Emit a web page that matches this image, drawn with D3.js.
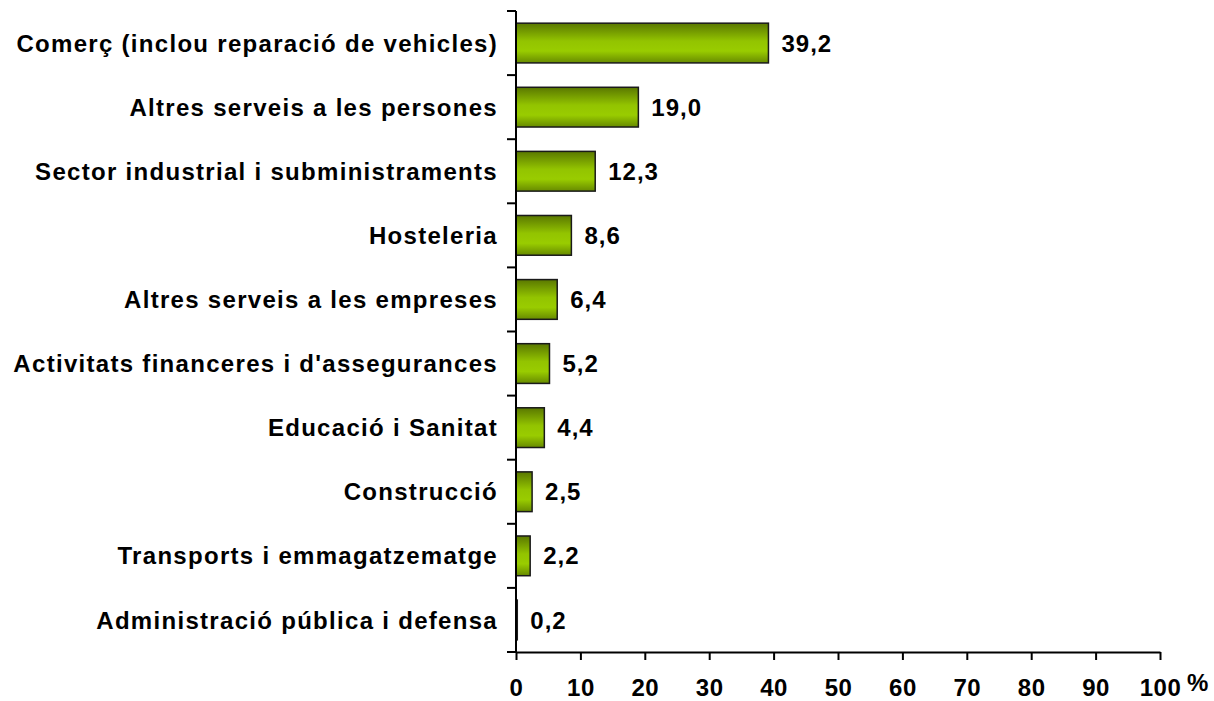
<!DOCTYPE html>
<html>
<head>
<meta charset="utf-8">
<script src="https://cdn.jsdelivr.net/npm/d3@7"></script>
<style>
  body { margin: 0; background: #fff; }
  text { font-family: "Liberation Sans", Arial, sans-serif; font-weight: bold; fill: #000; }
</style>
</head>
<body>
<div id="chart"></div>
<script>
const categories = [
  "Comerç (inclou reparació de vehicles)",
  "Altres serveis a les persones",
  "Sector industrial i subministraments",
  "Hosteleria",
  "Altres serveis a les empreses",
  "Activitats financeres i d'assegurances",
  "Educació i Sanitat",
  "Construcció",
  "Transports i emmagatzematge",
  "Administració pública i defensa"
];
const values = [39.2, 19.0, 12.3, 8.6, 6.4, 5.2, 4.4, 2.5, 2.2, 0.2];
const xTicks = [0, 10, 20, 30, 40, 50, 60, 70, 80, 90, 100];

const width = 1214, height = 701;
const margin = { top: 11, right: 54, bottom: 49, left: 516 };
const fontSize = 24;

const svg = d3.select("#chart").append("svg")
  .attr("width", width)
  .attr("height", height);

// bar gradient, dark at the edges and bright in the middle
const grad = svg.append("defs").append("linearGradient")
  .attr("id", "barGrad")
  .attr("x1", 0).attr("y1", 0).attr("x2", 0).attr("y2", 1);
grad.append("stop").attr("offset", "0%").attr("stop-color", "#5a7800");
grad.append("stop").attr("offset", "45%").attr("stop-color", "#93c400");
grad.append("stop").attr("offset", "70%").attr("stop-color", "#99cc00");
grad.append("stop").attr("offset", "100%").attr("stop-color", "#678a00");

const x = d3.scaleLinear().domain([0, 100]).range([margin.left, width - margin.right]);
const y = d3.scaleBand().domain(categories)
  .range([margin.top, height - margin.bottom])
  .paddingInner(0.38).paddingOuter(0.19);

const yBand = d3.scaleBand().domain(categories).range([margin.top, height - margin.bottom]);

// bars
svg.selectAll(".bar")
  .data(categories)
  .join("rect")
  .attr("class", "bar")
  .attr("x", x(0))
  .attr("y", (d) => y(d))
  .attr("width", (d, i) => x(values[i]) - x(0))
  .attr("height", y.bandwidth())
  .attr("fill", "url(#barGrad)")
  .attr("stroke", "#1a1a1a")
  .attr("stroke-width", 1.5);

// value labels
svg.selectAll(".val")
  .data(categories)
  .join("text")
  .attr("class", "val")
  .attr("x", (d, i) => x(values[i]) + 13)
  .attr("y", (d) => y(d) + y.bandwidth() / 2)
  .attr("dy", "0.36em")
  .attr("font-size", fontSize)
  .attr("letter-spacing", 1)
  .text((d, i) => values[i].toFixed(1).replace(".", ","));

// y axis: line + ticks between categories
const yAxisG = svg.append("g");
yAxisG.append("line")
  .attr("x1", x(0)).attr("x2", x(0))
  .attr("y1", margin.top).attr("y2", height - margin.bottom)
  .attr("stroke", "#000").attr("stroke-width", 2);
const bounds = categories.map((d) => yBand(d)).concat([height - margin.bottom]);
yAxisG.selectAll(".ytick")
  .data(bounds)
  .join("line")
  .attr("x1", x(0) - 9).attr("x2", x(0))
  .attr("y1", (d) => d).attr("y2", (d) => d)
  .attr("stroke", "#000").attr("stroke-width", 2);

// category labels
svg.selectAll(".cat")
  .data(categories)
  .join("text")
  .attr("class", "cat")
  .attr("x", x(0) - 18)
  .attr("y", (d) => yBand(d) + yBand.bandwidth() / 2)
  .attr("dy", "0.36em")
  .attr("text-anchor", "end")
  .attr("font-size", fontSize)
  .attr("letter-spacing", 1.3)
  .text((d) => d);

// x axis
const xAxis = d3.axisBottom(x).tickValues(xTicks).tickSize(8).tickPadding(19).tickSizeOuter(0);
const xg = svg.append("g")
  .attr("transform", `translate(0,${height - margin.bottom})`)
  .call(xAxis);
xg.select(".domain").attr("stroke-width", 2);
xg.selectAll(".tick line").attr("stroke-width", 2);
xg.selectAll(".tick text")
  .attr("font-size", fontSize)
  .attr("font-family", "Liberation Sans, Arial, sans-serif")
  .attr("font-weight", "bold")
  .attr("letter-spacing", 0.5)
  .attr("fill", "#000");

svg.append("text")
  .attr("x", x(100) + 27)
  .attr("y", height - margin.bottom + 39)
  .attr("font-size", fontSize)
  .text("%");
</script>
</body>
</html>
